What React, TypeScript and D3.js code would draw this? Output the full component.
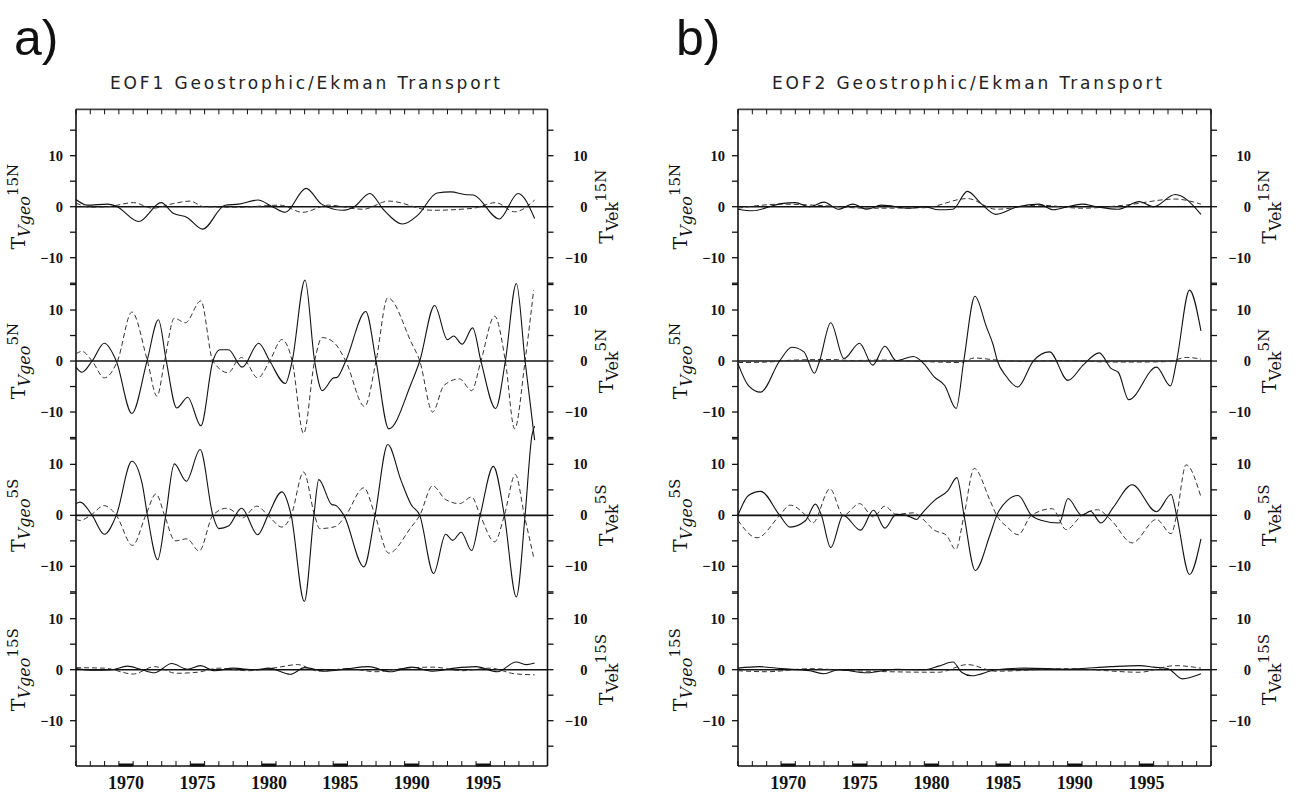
import React from 'react';
import * as d3 from 'd3';

type P = [number, number];

// ---------- tick / label data ----------
const labelYears = [1970, 1975, 1980, 1985, 1990, 1995];
const yTickValues = [-15, -10, -5, 0, 5, 10, 15];
const yLabelValues = [-10, 0, 10];
const latitudes = ['15N', '5N', '5S', '15S'];

// ---------- EOF1 (panel a) ----------
const eof1Geo15N: P[] = [[1967.0,1.4],[1967.77,0.3],[1969.22,0.5],[1969.82,0.1],[1971.39,-2.9],[1972.96,0.8],[1973.81,-1.3],[1974.77,-2.1],[1975.86,-4.4],[1977.43,0.3],[1978.39,0.5],[1979.72,1.3],[1980.81,-0.1],[1981.65,-1.1],[1983.1,3.6],[1984.19,0.5],[1985.63,-0.7],[1986.48,0],[1987.56,2.6],[1988.53,-0.6],[1989.86,-3.4],[1990.94,-1.6],[1992.27,2.7],[1993.24,2.9],[1994.2,2.4],[1994.81,2.3],[1996.62,-2.4],[1997.94,2.6],[1999.1,-2.3]];
const eof1Ek15N: P[] = [[1967.0,0.7],[1968.01,-0.1],[1969.22,0],[1971.03,0.8],[1972.36,-0.3],[1973.8,0.6],[1974.98,1.1],[1975.94,0],[1978.36,-0.1],[1981.29,0.3],[1982.86,-1.1],[1984.67,0.3],[1987.08,-0.5],[1988.89,1.1],[1991.91,-0.7],[1994.81,-0.3],[1996.37,0.8],[1997.7,-1.0],[1999.1,1.3]];
const eof1Geo5N: P[] = [[1967.0,-1.2],[1967.41,-2.2],[1968.13,0],[1968.98,3.5],[1969.82,0],[1970.91,-10.3],[1971.97,0],[1972.77,8.1],[1973.32,0],[1974.05,-9.2],[1974.82,-7.1],[1975.74,-12.7],[1976.58,0],[1977.07,2.2],[1977.67,2.2],[1978.63,-1.2],[1979.79,3.5],[1980.56,0],[1981.65,-4.4],[1982.13,0],[1983.03,15.9],[1983.7,0],[1984.23,-5.8],[1985.03,-3.3],[1985.27,-3.2],[1985.88,0],[1987.28,9.7],[1988.0,0],[1988.89,-13.3],[1990.46,-4.4],[1991.06,0],[1992.1,10.9],[1993.0,4.2],[1993.43,4.9],[1994.03,3.3],[1994.76,6.5],[1995.34,0],[1996.37,-9.3],[1997.05,0],[1997.82,15.2],[1998.43,0],[1999.1,-15.5]];
const eof1Ek5N: P[] = [[1967.0,1.4],[1967.41,1.9],[1968.13,0],[1968.98,-3.3],[1969.9,0],[1970.91,9.6],[1972.0,0],[1972.67,-6.9],[1973.2,0],[1973.88,8.4],[1974.65,7.5],[1975.74,11.8],[1976.58,0],[1977.67,-2.3],[1978.27,0],[1978.59,0.7],[1978.88,0],[1979.72,-3.3],[1980.56,0],[1981.41,4.2],[1982.13,0],[1982.93,-14.2],[1983.7,0],[1984.23,4.6],[1985.03,3.7],[1985.88,0],[1987.2,-8.9],[1988.0,0],[1988.82,12.4],[1990.46,3.7],[1991.06,0],[1991.96,-10],[1992.75,-4.8],[1993.84,-3.5],[1994.69,-5.8],[1995.34,0],[1996.3,8.8],[1997.05,0],[1997.7,-13.3],[1998.43,0],[1999.03,13.9]];
const eof1Geo5S: P[] = [[1967.0,2.3],[1967.29,2.6],[1968.13,0],[1968.98,-3.7],[1969.82,0],[1970.91,10.6],[1971.63,6.2],[1972.0,0],[1972.72,-8.7],[1973.28,0],[1973.88,10.1],[1974.72,6.7],[1975.69,12.9],[1976.58,0],[1976.99,-2.6],[1977.67,-2.1],[1978.59,1.4],[1979.72,-3.8],[1980.44,0],[1981.41,4.6],[1982.06,0],[1982.98,-16.9],[1983.65,0],[1983.99,7.0],[1984.91,2.1],[1985.15,2.0],[1985.75,0],[1987.15,-10.1],[1987.93,0],[1988.82,13.9],[1989.74,6.9],[1990.46,2.1],[1991.06,0],[1992.03,-11.4],[1992.87,-3.7],[1993.36,-4.9],[1993.96,-3.3],[1994.69,-6.9],[1995.29,0],[1996.21,9.6],[1996.98,0],[1997.82,-16],[1998.43,0],[1998.91,15.7],[1999.1,17.5]];
const eof1Ek5S: P[] = [[1967.0,-0.8],[1967.29,-1.0],[1968.01,0],[1968.98,1.9],[1969.82,0],[1970.96,-5.9],[1971.88,0],[1972.6,4.2],[1973.2,0],[1973.93,-5.0],[1974.77,-4.6],[1975.62,-7.0],[1976.58,0],[1977.55,1.4],[1978.39,0],[1978.63,-0.5],[1979.65,1.8],[1980.44,0],[1981.41,-2.3],[1982.06,0],[1982.93,8.5],[1983.7,0],[1984.06,-2.6],[1985.15,-2.2],[1985.88,0],[1987.15,5.4],[1987.93,0],[1988.89,-7.4],[1990.46,-2.3],[1991.06,0],[1991.96,5.8],[1992.87,3.1],[1993.84,2.3],[1994.69,3.6],[1995.29,0],[1996.3,-5.2],[1996.98,0],[1997.75,8.0],[1998.38,0],[1999.03,-8.2]];
const eof1Geo15S: P[] = [[1967.0,0.2],[1968.3,-0.1],[1969.5,0],[1970.6,0.7],[1971.5,0.1],[1972.5,-0.6],[1973.7,1.2],[1974.8,0.1],[1975.7,0.8],[1976.7,-0.2],[1978.0,0.3],[1979.5,0],[1980.5,0.3],[1982.0,-0.9],[1983.0,0.4],[1984.5,-0.3],[1986.0,0.2],[1987.5,0.6],[1989.0,-0.4],[1990.5,0.5],[1992.0,-0.3],[1993.5,0.3],[1995.0,0.6],[1996.5,-0.4],[1997.8,1.5],[1998.5,1.0],[1999.1,1.3]];
const eof1Ek15S: P[] = [[1967.0,0.4],[1969.0,0.3],[1971.0,-0.85],[1972.5,0.6],[1974.0,-0.7],[1975.5,-0.5],[1977.0,0.3],[1979.0,-0.2],[1981.0,0.4],[1982.5,1.0],[1984.0,-0.3],[1986.0,0.2],[1988.0,-0.4],[1990.0,0.3],[1992.0,0.5],[1994.0,-0.2],[1996.0,0.3],[1997.7,-0.8],[1999.1,-1.0]];

// ---------- EOF2 (panel b) ----------
const eof2Geo15N: P[] = [[1967.0,-0.5],[1968.0,-0.8],[1970.0,0.6],[1971.0,0.8],[1972.0,0],[1973.0,0.9],[1974.0,-0.5],[1975.0,0.5],[1976.0,-0.5],[1977.0,0.3],[1979.0,-0.3],[1980.0,0],[1981.0,-0.6],[1982.0,-0.5],[1983.0,3.0],[1984.0,0.5],[1985.0,-1.5],[1986.5,0],[1988.0,0.5],[1989.0,-0.6],[1990.0,0],[1991.0,0.5],[1992.0,0],[1993.5,-0.5],[1995.0,1.0],[1996.0,0],[1997.5,2.4],[1999.3,-1.5]];
const eof2Ek15N: P[] = [[1967.0,-0.3],[1970.0,0.5],[1973.0,0.2],[1976.0,-0.3],[1980.0,-0.2],[1983.0,1.6],[1985.0,-0.5],[1988.0,0.3],[1991.0,-0.3],[1994.0,0.3],[1997.5,1.5],[1999.3,0.5]];
const eof2Geo5N: P[] = [[1967.0,-0.5],[1967.73,-4.8],[1968.58,-6.1],[1969.9,0],[1970.76,2.7],[1971.6,1.8],[1972.33,-2.4],[1972.69,0],[1973.47,7.5],[1974.39,0.5],[1975.48,3.5],[1976.4,-0.8],[1977.25,2.9],[1978.03,0.1],[1979.24,0.9],[1979.96,-0.5],[1980.69,-3.1],[1981.42,-4.8],[1982.22,-9.3],[1982.75,0],[1983.53,12.7],[1984.33,6.7],[1984.81,3.1],[1985.1,0],[1985.66,-2.8],[1986.51,-5.1],[1987.6,0],[1988.74,1.8],[1990.02,-3.8],[1991.11,-0.7],[1992.2,1.6],[1993.05,-1.5],[1993.53,-2.2],[1994.26,-7.6],[1996.2,-1.2],[1997.17,-4.9],[1997.6,0],[1998.5,13.9],[1999.3,5.9]];
const eof2Ek5N: P[] = [[1967.0,-0.3],[1969.0,-0.2],[1971.0,0.2],[1973.5,0.3],[1975.0,0.1],[1977.0,0.2],[1979.0,0],[1981.0,-0.2],[1982.5,-0.3],[1983.5,0.6],[1985.0,0.2],[1987.0,-0.1],[1989.0,0.1],[1991.0,0],[1993.0,-0.2],[1995.0,-0.2],[1997.0,-0.1],[1998.3,0.7],[1999.3,0.4]];
const eof2Geo5S: P[] = [[1967.0,0],[1967.73,3.9],[1968.58,4.7],[1969.91,0],[1970.63,-2.3],[1971.72,-1.0],[1972.4,2.2],[1972.82,0],[1973.47,-6.3],[1974.34,0],[1975.55,-2.9],[1976.45,1.0],[1977.25,-2.5],[1978.03,0.2],[1978.75,0],[1979.48,-0.8],[1979.72,0],[1980.69,2.9],[1981.66,4.9],[1982.27,7.4],[1982.77,0],[1983.55,-10.8],[1984.57,-3.9],[1985.05,0],[1985.78,2.9],[1986.55,3.9],[1987.47,0],[1988.2,-1.0],[1989.41,-1.5],[1990.02,3.3],[1990.99,0],[1991.59,0.8],[1992.32,-1.5],[1993.17,1.5],[1994.5,6.0],[1996.2,0.7],[1997.22,4.1],[1997.6,0],[1998.5,-11.6],[1999.3,-4.6]];
const eof2Ek5S: P[] = [[1967.0,-1.0],[1968.33,-4.4],[1969.91,0],[1970.63,2.0],[1971.72,0],[1972.21,-1.5],[1973.42,5.2],[1974.34,0],[1975.48,2.3],[1976.45,-0.3],[1977.25,1.8],[1978.03,0.2],[1979.24,0.5],[1979.72,-0.3],[1980.69,-2.9],[1981.54,-3.9],[1982.19,-6.7],[1982.77,0],[1983.48,9.2],[1984.57,3.0],[1985.05,0],[1985.78,-2.3],[1986.55,-3.8],[1987.47,0],[1988.93,1.3],[1989.9,-2.8],[1990.99,0],[1992.08,1.1],[1993.05,-1.0],[1994.5,-5.4],[1996.2,-0.8],[1997.22,-3.6],[1997.6,0],[1998.26,9.9],[1999.3,3.6]];
const eof2Geo15S: P[] = [[1967.0,0.3],[1968.5,0.6],[1970.0,0.2],[1972.0,-0.2],[1973.0,-0.8],[1974.0,0],[1976.0,-0.6],[1978.0,0.1],[1980.0,0],[1981.0,0.7],[1982.0,1.5],[1982.6,-0.5],[1983.3,-1.2],[1985.0,0],[1987.0,0.3],[1990.0,0.1],[1993.0,0.6],[1995.0,0.8],[1996.0,0.5],[1997.0,0.2],[1998.0,-1.8],[1999.3,-0.8]];
const eof2Ek15S: P[] = [[1967.0,-0.2],[1969.0,-0.4],[1972.0,0.2],[1975.0,-0.2],[1981.0,-0.5],[1983.0,1.0],[1985.0,-0.3],[1990.0,0.2],[1995.0,-0.5],[1997.5,0.8],[1999.3,0.3]];

const eof1Geo = [eof1Geo15N, eof1Geo5N, eof1Geo5S, eof1Geo15S];
const eof1Ek = [eof1Ek15N, eof1Ek5N, eof1Ek5S, eof1Ek15S];
const eof2Geo = [eof2Geo15N, eof2Geo5N, eof2Geo5S, eof2Geo15S];
const eof2Ek = [eof2Ek15N, eof2Ek5N, eof2Ek5S, eof2Ek15S];

// ---------- layout ----------
const TOP = 109.3;
const BOTTOM = 766;
const ZERO0 = 206.7;
const STEP = 154.33;
const UNIT = 5.1;
const serif = '"DejaVu Serif", "Liberation Serif", serif';
const tickFont = '"Liberation Serif", "DejaVu Serif", serif';

const fmt = (v: number) => (v < 0 ? '\u2212' + Math.abs(v) : String(v));

function Panel(props: { x0: number; x1: number; title: string; letter: string; geo: P[][]; ek: P[][] }) {
  const { x0, x1, title, letter, geo, ek } = props;
  const xs = d3.scaleLinear().domain([1967, 2000]).range([x0, x1]);
  const allYears = d3.range(1967, 2001);
  const scales = latitudes.map((_, i) => {
    const z = ZERO0 + i * STEP;
    return d3.scaleLinear().domain([-15, 15]).range([z + 15 * UNIT, z - 15 * UNIT]);
  });
  const titleX = x0 + 34;
  return (
    <g>
      <text x={x0 - 62} y={55} fontFamily='"Liberation Sans", Arial, sans-serif' fontSize={50} fill="#111">{letter}</text>
      <text x={titleX} y={89} fontFamily='"DejaVu Sans", sans-serif' fontSize={17} fill="#222" textLength={390} lengthAdjust="spacing">{title}</text>
      {/* frame */}
      <line x1={x0} x2={x1} y1={TOP} y2={TOP} stroke="#444" strokeWidth={1.8} />
      <line x1={x0} x2={x1} y1={BOTTOM} y2={BOTTOM} stroke="#111" strokeWidth={1.4} />
      <line x1={x0} x2={x0} y1={TOP} y2={BOTTOM} stroke="#111" strokeWidth={1.6} />
      <line x1={x1} x2={x1} y1={TOP} y2={BOTTOM} stroke="#111" strokeWidth={1.6} />
      {/* year ticks */}
      {allYears.map((yr) => (
        <g key={'yt' + yr}>
          <line x1={xs(yr)} x2={xs(yr)} y1={TOP} y2={TOP + 5} stroke="#111" strokeWidth={1} />
          <line x1={xs(yr)} x2={xs(yr)} y1={BOTTOM} y2={BOTTOM - 5} stroke="#111" strokeWidth={1} />
        </g>
      ))}
      {labelYears.map((yr) => (
        <g key={'yl' + yr}>
          <line x1={xs(yr)} x2={xs(yr + 1)} y1={BOTTOM - 1} y2={BOTTOM - 1} stroke="#111" strokeWidth={3} />
          <text x={xs(yr + 0.5)} y={789} textAnchor="middle" fontFamily={tickFont} fontWeight="bold" fontSize={18} fill="#111">{yr}</text>
        </g>
      ))}
      {scales.map((ys, i) => {
        const z = ys(0);
        const line = d3.line<P>().x((d) => xs(d[0])).y((d) => ys(d[1])).curve(d3.curveMonotoneX);
        return (
          <g key={'p' + i}>
            {yTickValues.map((v) => (
              <g key={'t' + v}>
                <line x1={x0 - 6} x2={x0} y1={ys(v)} y2={ys(v)} stroke="#111" strokeWidth={1.3} />
                <line x1={x1} x2={x1 + 6} y1={ys(v)} y2={ys(v)} stroke="#111" strokeWidth={1.3} />
              </g>
            ))}
            {yLabelValues.map((v) => (
              <g key={'l' + v}>
                <text x={x0 - 13} y={ys(v)} dy="0.35em" textAnchor="end" fontFamily={tickFont} fontWeight="bold" fontSize={14.5} fill="#111">{fmt(v)}</text>
                <text x={x1 + 40} y={ys(v)} dy="0.35em" textAnchor="end" fontFamily={tickFont} fontWeight="bold" fontSize={14.5} fill="#111">{fmt(v)}</text>
              </g>
            ))}
            <line x1={x0} x2={x1} y1={z} y2={z} stroke="#111" strokeWidth={1.6} />
            <path d={line(ek[i]) || ''} fill="none" stroke="#333" strokeWidth={1} strokeDasharray="5,3" />
            <path d={line(geo[i]) || ''} fill="none" stroke="#111" strokeWidth={1.1} />
            <text transform={`translate(${x0 - 51},${z}) rotate(-90)`} textAnchor="middle" fontFamily={serif} fill="#111">
              <tspan fontSize={19}>T</tspan>
              <tspan fontSize={16} fontStyle="italic" dy={5}>Vgeo</tspan>
              <tspan fontSize={15} dy={-12}>{latitudes[i]}</tspan>
            </text>
            <text transform={`translate(${x1 + 65},${z}) rotate(-90)`} textAnchor="middle" fontFamily={serif} fill="#111">
              <tspan fontSize={19}>T</tspan>
              <tspan fontSize={16} dy={5}>Vek</tspan>
              <tspan fontSize={15} dy={-12}>{latitudes[i]}</tspan>
            </text>
          </g>
        );
      })}
    </g>
  );
}

export default function App() {
  return (
    <svg width={1300} height={792} style={{ position: 'absolute', left: 0, top: 0, background: '#fff' }}>
      <rect width={1300} height={792} fill="#fff" />
      <Panel x0={76} x1={547.5} title="EOF1 Geostrophic/Ekman Transport" letter="a)" geo={eof1Geo} ek={eof1Ek} />
      <Panel x0={738} x1={1211} title="EOF2 Geostrophic/Ekman Transport" letter="b)" geo={eof2Geo} ek={eof2Ek} />
    </svg>
  );
}
